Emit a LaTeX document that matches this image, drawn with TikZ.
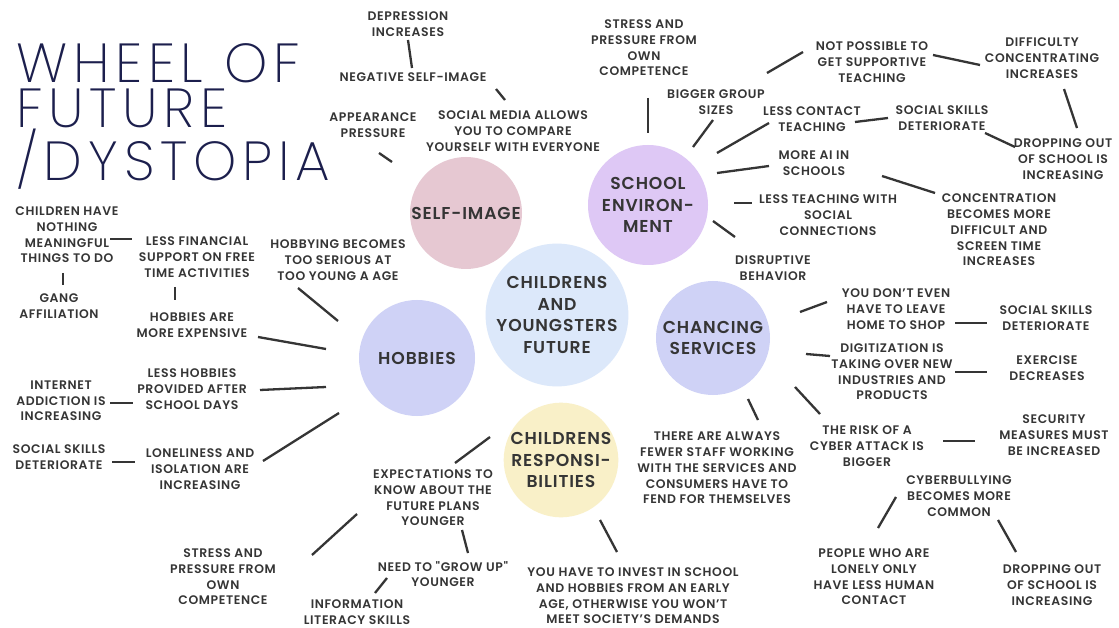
\documentclass[tikz,border=0pt]{standalone}
\usepackage{fontspec}
% thin geometric face for the heading, semibold for the labels
\IfFontExistsTF{Poppins ExtraLight}
  {\newfontfamily\titlefont{Poppins ExtraLight}[LetterSpace=10.5]}
  {\IfFontExistsTF{Poppins Light}
    {\newfontfamily\titlefont{Poppins Light}[LetterSpace=10.5]}
    {\newfontfamily\titlefont{Poppins}[LetterSpace=10.5]}}
\IfFontExistsTF{Poppins SemiBold}
  {\newfontfamily\labelfont{Poppins SemiBold}[LetterSpace=5]}
  {\newfontfamily\labelbase{Poppins}[LetterSpace=5]\def\labelfont{\labelbase\bfseries}}

\definecolor{txtgray}{HTML}{353535}
\definecolor{linegray}{HTML}{353535}
\definecolor{navy}{HTML}{1C1F4D}
\definecolor{selfpink}{HTML}{E6C8D2}
\definecolor{schoolpurple}{HTML}{DEC8F5}
\definecolor{centerblue}{HTML}{DCE8FA}
\definecolor{periwinkle}{HTML}{CFD2F6}
\definecolor{respyellow}{HTML}{F9F0C8}

\tikzset{
  lbl/.style={font=\labelfont\fontsize{12.4}{15.7}\selectfont, text=txtgray, align=center, inner sep=0pt},
  hub/.style={circle, inner sep=0pt, text=txtgray, align=center,
              font=\labelfont\fontsize{17.2}{21.5}\selectfont},
  link/.style={draw=linegray, line width=2.3pt},
  heading/.style={font=\titlefont\fontsize{55}{45}\selectfont, text=navy, inner sep=0pt, align=left}
}

\begin{document}
\begin{tikzpicture}[x=1pt, y=-1pt]
\useasboundingbox (0,0) rectangle (1119,628);
\fill[white] (0,0) rectangle (1119,628);

% heading
\node[heading, anchor=north west] (title) at (16,43) {WHEEL OF\\FUTURE\\/DYSTOPIA};

% the wheel
\node[hub, fill=centerblue, minimum size=140pt] (core) at (557,315) {CHILDRENS\\AND\\YOUNGSTERS\\FUTURE};
\node[hub, fill=selfpink, minimum size=112pt] (self) at (466,213) {SELF-IMAGE};
\node[hub, fill=schoolpurple, minimum size=120pt] (school) at (648,205) {SCHOOL\\ENVIRON-\\MENT};
\node[hub, fill=periwinkle, minimum size=116pt] (hobby) at (417,358) {HOBBIES};
\node[hub, fill=periwinkle, minimum size=114pt] (serv) at (713,338) {CHANCING\\SERVICES};
\node[hub, fill=respyellow, minimum size=114pt] (resp) at (561,460) {CHILDRENS\\RESPONSI-\\BILITIES};

% self-image
\node[lbl] (depr) at (408,24) {DEPRESSION\\INCREASES};
\node[lbl] (neg) at (413,77) {NEGATIVE SELF-IMAGE};
\node[lbl] (social) at (513,131) {SOCIAL MEDIA ALLOWS\\YOU TO COMPARE\\YOURSELF WITH EVERYONE};
\node[lbl] (appear) at (373,125) {APPEARANCE\\PRESSURE};

% school environment
\node[lbl] (stress1) at (644,48) {STRESS AND\\PRESSURE FROM\\OWN\\COMPETENCE};
\node[lbl] (bigger) at (716,102) {BIGGER GROUP\\SIZES};
\node[lbl] (notposs) at (872,62) {NOT POSSIBLE TO\\GET SUPPORTIVE\\TEACHING};
\node[lbl] (diffic) at (1042,58) {DIFFICULTY\\CONCENTRATING\\INCREASES};
\node[lbl] (drop1) at (1063,159) {DROPPING OUT\\OF SCHOOL IS\\INCREASING};
\node[lbl] (contact) at (812,119) {LESS CONTACT\\TEACHING};
\node[lbl] (skills1) at (942,118) {SOCIAL SKILLS\\DETERIORATE};
\node[lbl] (ai) at (814,163) {MORE AI IN\\SCHOOLS};
\node[lbl] (conc) at (999,230) {CONCENTRATION\\BECOMES MORE\\DIFFICULT AND\\SCREEN TIME\\INCREASES};
\node[lbl] (lessteach) at (828,215) {LESS TEACHING WITH\\SOCIAL\\CONNECTIONS};
\node[lbl] (disrupt) at (773,268) {DISRUPTIVE\\BEHAVIOR};

% hobbies
\node[lbl] (nothing) at (67,235) {CHILDREN HAVE\\NOTHING\\MEANINGFUL\\THINGS TO DO};
\node[lbl] (finance) at (197,257) {LESS FINANCIAL\\SUPPORT ON FREE\\TIME ACTIVITIES};
\node[lbl] (serious) at (338,260) {HOBBYING BECOMES\\TOO SERIOUS AT\\TOO YOUNG A AGE};
\node[lbl] (gang) at (59,306) {GANG\\AFFILIATION};
\node[lbl] (expens) at (192,325) {HOBBIES ARE\\MORE EXPENSIVE};
\node[lbl] (fewhob) at (192,389) {LESS HOBBIES\\PROVIDED AFTER\\SCHOOL DAYS};
\node[lbl] (internet) at (61,401) {INTERNET\\ADDICTION IS\\INCREASING};
\node[lbl] (skills2) at (59,457) {SOCIAL SKILLS\\DETERIORATE};
\node[lbl] (lonely) at (200,469) {LONELINESS AND\\ISOLATION ARE\\INCREASING};

% responsibilities
\node[lbl] (expect) at (433,498) {EXPECTATIONS TO\\KNOW ABOUT THE\\FUTURE PLANS\\YOUNGER};
\node[lbl] (stress2) at (223,577) {STRESS AND\\PRESSURE FROM\\OWN\\COMPETENCE};
\node[lbl] (growup) at (443,574) {NEED TO "GROW UP"\\YOUNGER};
\node[lbl] (info) at (357,612) {INFORMATION\\LITERACY SKILLS};
\node[lbl] (invest) at (633,596) {YOU HAVE TO INVEST IN SCHOOL\\AND HOBBIES FROM AN EARLY\\AGE, OTHERWISE YOU WON’T\\MEET SOCIETY’S DEMANDS};

% changing services
\node[lbl] (shop) at (896,309) {YOU DON’T EVEN\\HAVE TO LEAVE\\HOME TO SHOP};
\node[lbl] (skills3) at (1046,318) {SOCIAL SKILLS\\DETERIORATE};
\node[lbl] (digit) at (892,372) {DIGITIZATION IS\\TAKING OVER NEW\\INDUSTRIES AND\\PRODUCTS};
\node[lbl] (exer) at (1047,368) {EXERCISE\\DECREASES};
\node[lbl] (staff) at (717,468) {THERE ARE ALWAYS\\FEWER STAFF WORKING\\WITH THE SERVICES AND\\CONSUMERS HAVE TO\\FEND FOR THEMSELVES};
\node[lbl] (risk) at (867,446) {THE RISK OF A\\CYBER ATTACK IS\\BIGGER};
\node[lbl] (secur) at (1054,435) {SECURITY\\MEASURES MUST\\BE INCREASED};
\node[lbl] (bully) at (959,496) {CYBERBULLYING\\BECOMES MORE\\COMMON};
\node[lbl] (people) at (874,577) {PEOPLE WHO ARE\\LONELY ONLY\\HAVE LESS HUMAN\\CONTACT};
\node[lbl] (drop2) at (1052,585) {DROPPING OUT\\OF SCHOOL IS\\INCREASING};

% short connector strokes
\path (408,40) coordinate (a1) (412,68) coordinate (b1)
      (496,89) coordinate (a2) (505,100) coordinate (b2)
      (379,153) coordinate (a3) (392,162) coordinate (b3)
      (648,98) coordinate (a4) (648,133) coordinate (b4)
      (713,120) coordinate (a5) (693,147) coordinate (b5)
      (767,73) coordinate (a6) (803,52) coordinate (b6)
      (933,55) coordinate (a7) (980,65) coordinate (b7)
      (1064,89) coordinate (a8) (1077,128) coordinate (b8)
      (717,153) coordinate (a9) (769,123) coordinate (b9)
      (855,122) coordinate (a10) (888,118) coordinate (b10)
      (985,133) coordinate (a11) (1015,147) coordinate (b11)
      (717,173) coordinate (a12) (769,166) coordinate (b12)
      (882,176) coordinate (a13) (935,193) coordinate (b13)
      (734,203) coordinate (a14) (752,203) coordinate (b14)
      (713,221) coordinate (a15) (735,237) coordinate (b15)
      (110,239) coordinate (a16) (132,239) coordinate (b16)
      (63,273) coordinate (a17) (63,285) coordinate (b17)
      (175,287) coordinate (a18) (175,300) coordinate (b18)
      (298,288) coordinate (a19) (338,321) coordinate (b19)
      (258,337) coordinate (a20) (326,349) coordinate (b20)
      (260,390) coordinate (a21) (326,387) coordinate (b21)
      (110,403) coordinate (a22) (133,403) coordinate (b22)
      (263,461) coordinate (a23) (339,413) coordinate (b23)
      (112,462) coordinate (a24) (135,462) coordinate (b24)
      (455,463) coordinate (a25) (490,437) coordinate (b25)
      (357,514) coordinate (a26) (312,555) coordinate (b26)
      (462,530) coordinate (a27) (468,553) coordinate (b27)
      (387,578) coordinate (a28) (375,593) coordinate (b28)
      (600,520) coordinate (a29) (617,552) coordinate (b29)
      (800,312) coordinate (a30) (827,302) coordinate (b30)
      (955,323) coordinate (a31) (987,323) coordinate (b31)
      (806,354) coordinate (a32) (830,356) coordinate (b32)
      (955,372) coordinate (a33) (987,372) coordinate (b33)
      (795,387) coordinate (a34) (820,414) coordinate (b34)
      (748,399) coordinate (a35) (758,420) coordinate (b35)
      (943,441) coordinate (a36) (975,441) coordinate (b36)
      (896,497) coordinate (a37) (878,528) coordinate (b37)
      (998,520) coordinate (a38) (1016,552) coordinate (b38);
\foreach \i in {1,...,38} \draw[link] (a\i) -- (b\i);
\end{tikzpicture}
\end{document}
